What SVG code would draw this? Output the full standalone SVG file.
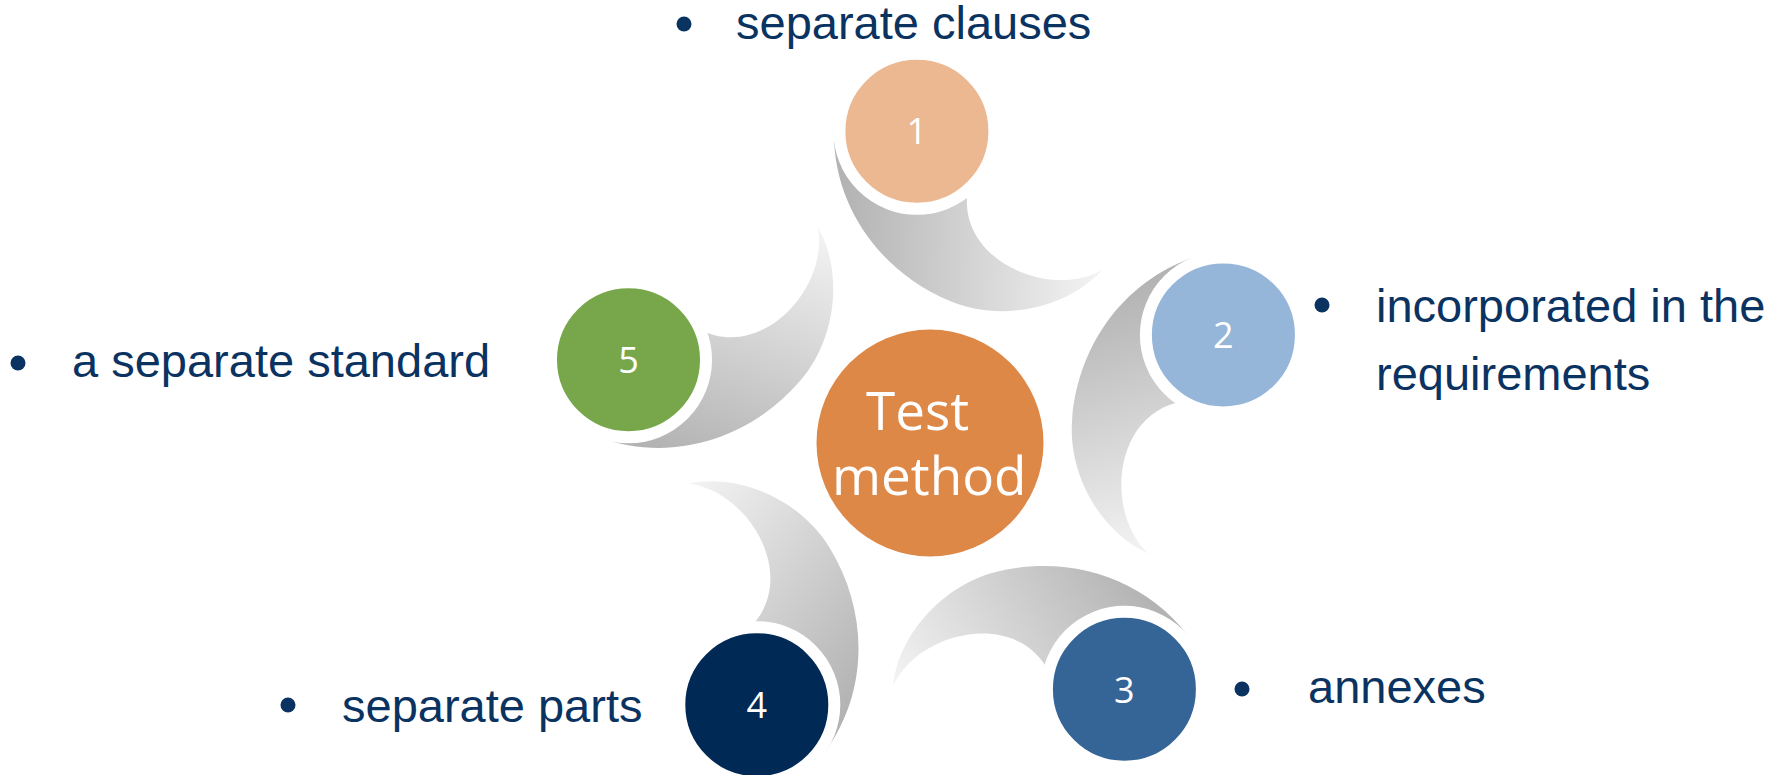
<svg xmlns="http://www.w3.org/2000/svg" width="1790" height="775" viewBox="0 0 1790 775">
  <style>
    .label { font-family: "Liberation Sans", Arial, sans-serif; font-size: 47px; fill: #0b3361; }
    .bullet { fill: #0b3361; }
    .num { font-family: "Open Sans", "Liberation Sans", sans-serif; font-size: 36px; fill: #ffffff; text-anchor: middle; }
    .ring { stroke: #ffffff; stroke-width: 12; }
    .swoosh { fill: url(#swooshGrad); }
    .center-text { font-family: "Open Sans", "Liberation Sans", sans-serif; font-size: 53px; fill: #ffffff; }
  </style>
  <defs>
    <linearGradient id="swooshGrad" gradientUnits="userSpaceOnUse" x1="840" y1="230" x2="1100" y2="240">
      <stop offset="0" stop-color="#b3b3b3"/>
      <stop offset="1" stop-color="#f3f3f3"/>
    </linearGradient>
    <path id="swooshShape" d="M 834,126 C 831,205 880,272 950,301 C 1002,323 1068,308 1102,270 C 1050,300 955,260 968,188 L 917,131 Z"/>
  </defs>
  <rect width="1790" height="775" fill="#ffffff"/>

  <g id="connectors">
    <use href="#swooshShape" class="swoosh"/>
    <use href="#swooshShape" class="swoosh" transform="rotate(72 930 444)"/>
    <use href="#swooshShape" class="swoosh" transform="rotate(144 930 444)"/>
    <use href="#swooshShape" class="swoosh" transform="rotate(216 930 444)"/>
    <use href="#swooshShape" class="swoosh" transform="rotate(288 930 444)"/>
  </g>

  <g id="node-1">
    <circle class="ring" cx="916.9" cy="131.3" r="77.5" fill="#ecb891"/>
    <text class="num" x="916.9" y="144">1</text>
  </g>
  <g id="node-2">
    <circle class="ring" cx="1223.4" cy="334.9" r="77.5" fill="#95b5d9"/>
    <text class="num" x="1223.4" y="348">2</text>
  </g>
  <g id="node-3">
    <circle class="ring" cx="1124.4" cy="689.3" r="77.5" fill="#356597"/>
    <text class="num" x="1124.4" y="702.5">3</text>
  </g>
  <g id="node-4">
    <circle class="ring" cx="756.8" cy="704.7" r="77.5" fill="#002a55"/>
    <text class="num" x="756.8" y="718">4</text>
  </g>
  <g id="node-5">
    <circle class="ring" cx="628.5" cy="359.8" r="77.5" fill="#78a74b"/>
    <text class="num" x="628.5" y="373">5</text>
  </g>

  <g id="node-center">
    <circle cx="930" cy="443" r="113.5" fill="#de8848"/>
    <text class="center-text" x="866" y="430">Test</text>
    <text class="center-text" x="832" y="495">method</text>
  </g>

  <g id="label-1">
    <circle class="bullet" cx="684" cy="24" r="7.5"/>
    <text class="label" x="736" y="39">separate clauses</text>
  </g>
  <g id="label-2">
    <circle class="bullet" cx="1322" cy="305" r="7.5"/>
    <text class="label" x="1376" y="322">incorporated in the</text>
    <text class="label" x="1376" y="390">requirements</text>
  </g>
  <g id="label-3">
    <circle class="bullet" cx="1242" cy="689" r="7.5"/>
    <text class="label" x="1308" y="703">annexes</text>
  </g>
  <g id="label-4">
    <circle class="bullet" cx="288" cy="705" r="7.5"/>
    <text class="label" x="342" y="722">separate parts</text>
  </g>
  <g id="label-5">
    <circle class="bullet" cx="18" cy="363" r="7.5"/>
    <text class="label" x="72" y="377">a separate standard</text>
  </g>
</svg>
